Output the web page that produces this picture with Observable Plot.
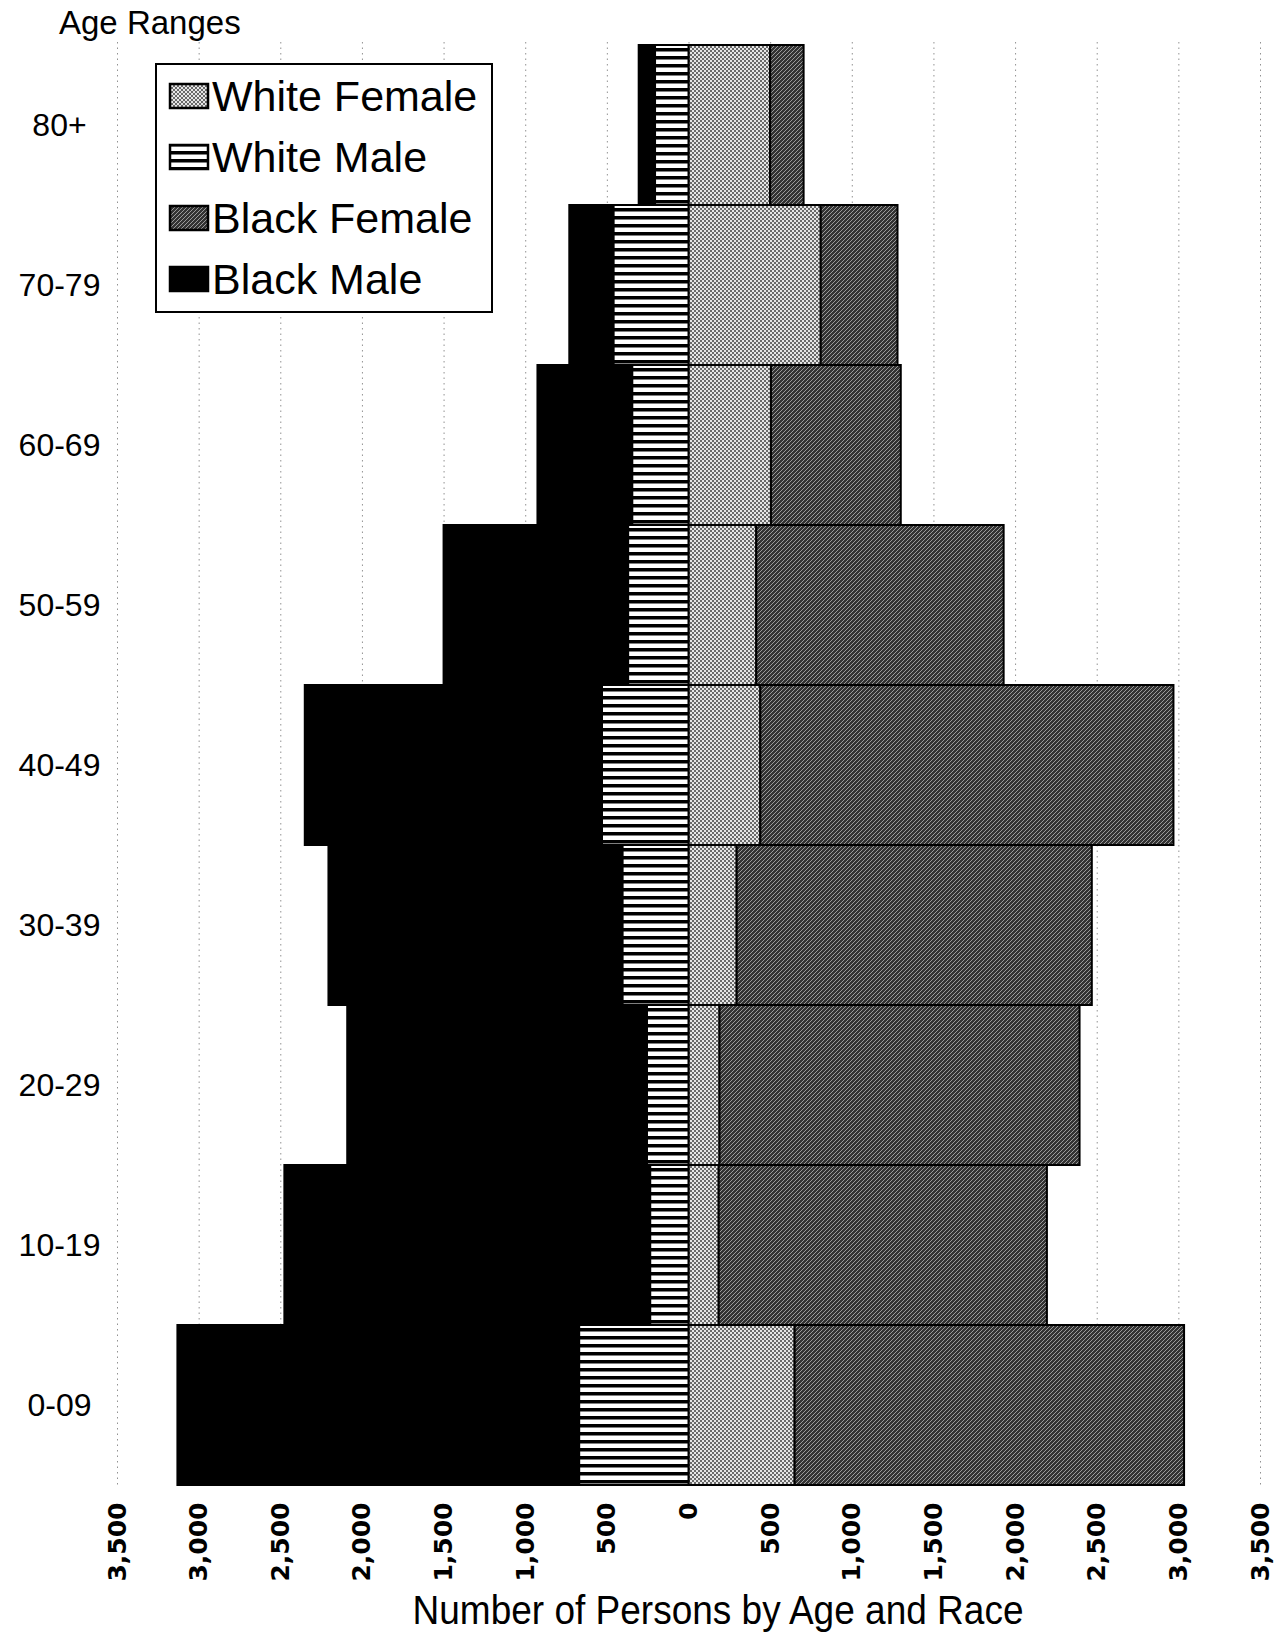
<!DOCTYPE html>
<html>
<head>
<meta charset="utf-8">
<script src="https://cdn.jsdelivr.net/npm/d3@7"></script>
<script src="https://cdn.jsdelivr.net/npm/@observablehq/plot@0.6"></script>
<style>
  html, body { margin: 0; padding: 0; background: #fff; }
  #wrap { position: relative; width: 1278px; height: 1637px; font-family: "Liberation Sans", Arial, sans-serif; }
  #legend { position: absolute; left: 155px; top: 63px; }
</style>
</head>
<body>
<div id="wrap"></div>
<script>
// ---- data ----
const ages = ["80+", "70-79", "60-69", "50-59", "40-49", "30-39", "20-29", "10-19", "0-09"];
const series = ["White Female", "White Male", "Black Female", "Black Male"];
const whiteFemale = [500, 810, 505, 415, 440, 295, 190, 185, 650];
const whiteMale   = [205, 460, 345, 370, 530, 405, 255, 235, 670];
const blackFemale = [205, 470, 795, 1515, 2530, 2175, 2205, 2010, 2385];
const blackMale   = [100, 270, 580, 1130, 1820, 1800, 1835, 2240, 2460];
const xTicks = [-3500, -3000, -2500, -2000, -1500, -1000, -500, 0, 500, 1000, 1500, 2000, 2500, 3000, 3500];
const xLabel = "Number of Persons by Age and Race";
const yTitle = "Age Ranges";

const fills = ["url(#pWF)", "url(#pWM)", "url(#pBF)", "#000"];

const rows = ages.flatMap((a, i) => [
  {age: a, series: "White Female", value: whiteFemale[i]},
  {age: a, series: "White Male", value: -whiteMale[i]},
  {age: a, series: "Black Female", value: blackFemale[i]},
  {age: a, series: "Black Male", value: -blackMale[i]}
]);

const W = 1278, H = 1637;
const chart = Plot.plot({
  width: W,
  height: H,
  marginTop: 42,
  marginBottom: 149,
  marginLeft: 117,
  marginRight: 18,
  style: {fontFamily: "'Liberation Sans', Arial, sans-serif", background: "white", color: "black"},
  x: {domain: [-3500, 3500]},
  y: {domain: ages, padding: 0},
  color: {domain: series, range: fills},
  marks: [
    Plot.gridX(xTicks, {stroke: "#777", strokeOpacity: 0.8, strokeDasharray: "1.5,4"}),
    Plot.barX(rows, Plot.stackX({x: "value", y: "age", fill: "series", stroke: "#000", strokeWidth: 2})),
    Plot.axisX({
      ticks: xTicks,
      tickFormat: d => d3.format(",")(Math.abs(d)),
      tickRotate: -90,
      tickSize: 0,
      tickPadding: 14,
      fontSize: 25,
      fontWeight: "bold",
      fontFamily: "'DejaVu Sans', sans-serif",
      label: null
    }),
    Plot.axisY({
      tickSize: 0,
      tickPadding: 58,
      textAnchor: "middle",
      fontSize: 32,
      label: null
    })
  ]
});

// patterns
const svg = d3.select(chart);
const defs = svg.insert("defs", ":first-child");
const pWF = defs.append("pattern").attr("id", "pWF").attr("patternUnits", "userSpaceOnUse").attr("width", 4).attr("height", 4);
pWF.append("rect").attr("width", 4).attr("height", 4).attr("fill", "#e6e6e6");
pWF.append("rect").attr("width", 2).attr("height", 2).attr("fill", "#6a6a6a");
pWF.append("rect").attr("x", 2).attr("y", 2).attr("width", 2).attr("height", 2).attr("fill", "#6a6a6a");
const pWM = defs.append("pattern").attr("id", "pWM").attr("patternUnits", "userSpaceOnUse").attr("width", 8).attr("height", 8);
pWM.append("rect").attr("width", 8).attr("height", 8).attr("fill", "#fff");
pWM.append("rect").attr("width", 8).attr("height", 3.5).attr("fill", "#000");
const pBF = defs.append("pattern").attr("id", "pBF").attr("patternUnits", "userSpaceOnUse").attr("width", 4).attr("height", 4);
pBF.append("rect").attr("width", 4).attr("height", 4).attr("fill", "#333");
pBF.append("path").attr("d", "M-1,1 L1,-1 M0,4 L4,0 M3,5 L5,3").attr("stroke", "#9a9a9a").attr("stroke-width", 1);

// titles
svg.append("text").attr("x", 59).attr("y", 34).attr("text-anchor", "start")
  .attr("font-size", 33).attr("fill", "#000").text(yTitle);
svg.append("text").attr("x", 718).attr("y", 1624).attr("text-anchor", "middle")
  .attr("font-size", 40).attr("textLength", 611).attr("lengthAdjust", "spacingAndGlyphs")
  .attr("fill", "#000").text(xLabel);

document.getElementById("wrap").appendChild(chart);

// legend
const leg = d3.select("#wrap").append("svg").attr("id", "legend").attr("width", 340).attr("height", 252);
leg.append("rect").attr("x", 1).attr("y", 1).attr("width", 336).attr("height", 248).attr("fill", "#fff").attr("stroke", "#000").attr("stroke-width", 2);
series.forEach((s, i) => {
  const cy = 33 + i * 61;
  leg.append("rect").attr("x", 15).attr("y", cy - 12).attr("width", 38).attr("height", 24)
    .attr("fill", fills[i]).attr("stroke", "#000").attr("stroke-width", 2.5);
  leg.append("text").attr("x", 57).attr("y", cy + 15).attr("font-size", 43)
    .attr("font-family", "'Liberation Sans', Arial, sans-serif").attr("fill", "#000").text(s);
});
</script>
</body>
</html>
